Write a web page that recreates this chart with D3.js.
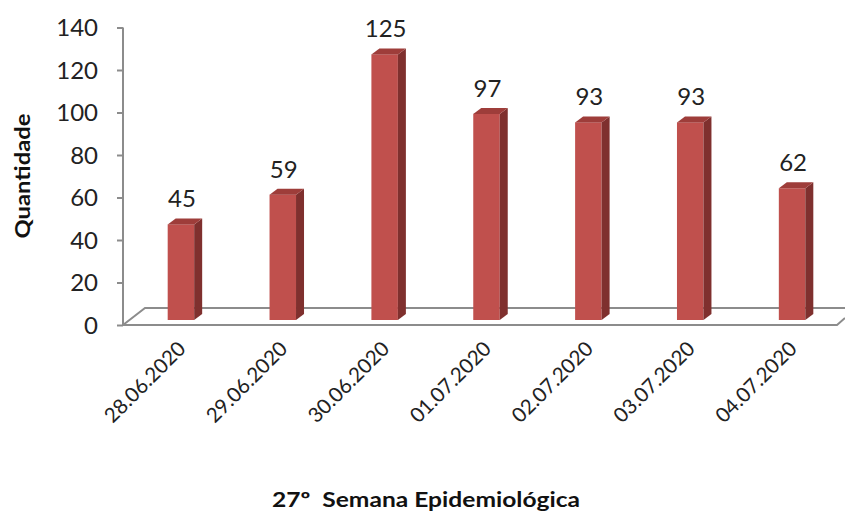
<!DOCTYPE html>
<html><head><meta charset="utf-8">
<script src="https://cdn.jsdelivr.net/npm/d3@7"></script>
<style>body{margin:0;background:#fff}svg{display:block}</style>
</head><body>
<svg id="c" width="845" height="515"></svg>
<script>
const categories = ["28.06.2020","29.06.2020","30.06.2020","01.07.2020","02.07.2020","03.07.2020","04.07.2020"];
const values = [45, 59, 125, 97, 93, 93, 62];
const yTicks = [0, 20, 40, 60, 80, 100, 120, 140];
const yTitle = "Quantidade";
const xTitle = "27º\u00a0 Semana Epidemiológica";

const svg = d3.select("#c");
const font = "Lato, 'Open Sans', sans-serif";
const axisX = 123, floorY = 325, depthX = 22, depthY = 17;
const y = d3.scaleLinear().domain([0, 140]).range([325, 27.5]);
const x = d3.scaleBand().domain(categories).range([130, 843]).paddingInner(0.74).paddingOuter(0.37);
const gray = "#8c8c8c";

// floor
const fl = svg.append("g").attr("stroke", gray).attr("stroke-width", 2).attr("fill", "none");
fl.append("path").attr("d", `M${axisX},${floorY} L${axisX+depthX},${floorY-depthY} L845,${floorY-depthY}`);
fl.append("path").attr("d", `M${axisX},${floorY} L837,${floorY} L845,${floorY-7}`);

// y axis
const yAxis = d3.axisLeft(y).tickValues(yTicks).tickSize(6).tickPadding(19);
const ga = svg.append("g").attr("transform", `translate(${axisX},0)`).call(yAxis);
ga.select(".domain").attr("stroke", gray).attr("stroke-width", 2).attr("d", `M-0,${y(140)}V${y(0)}`);
ga.selectAll(".tick line").attr("stroke", gray).attr("stroke-width", 2);
ga.selectAll(".tick text").attr("font-family", font).attr("font-size", 24).attr("fill", "#222").attr("dy", "0.35em");

// bars
const base = 320, k = (y(0) - y(1));
const bw = x.bandwidth(), sdx = 8, sdy = 6;
const bars = svg.append("g");
categories.forEach((c, i) => {
  const v = values[i];
  const x0 = x(c), top = base - v * k;
  bars.append("rect").attr("x", x0).attr("y", top).attr("width", bw).attr("height", base - top).attr("fill", "#c0504d");
  bars.append("path").attr("d", `M${x0+bw},${top} L${x0+bw+sdx},${top-sdy} L${x0+bw+sdx},${base-sdy} L${x0+bw},${base}Z`).attr("fill", "#7f302e");
  bars.append("path").attr("d", `M${x0},${top} L${x0+sdx},${top-sdy} L${x0+bw+sdx},${top-sdy} L${x0+bw},${top}Z`).attr("fill", "#9e3d3a");
  bars.append("text").attr("x", x0 + bw/2 + 1).attr("y", top - 17).attr("text-anchor", "middle")
    .attr("font-family", font).attr("font-size", 24).attr("fill", "#222").text(v);
  bars.append("text").attr("transform", `translate(${x0 + bw/2 + 6},${350}) rotate(-45)`).attr("text-anchor", "end")
    .attr("font-family", font).attr("font-size", 20.5).attr("fill", "#222").text(c);
});

svg.append("text").attr("transform", "translate(30,176) rotate(-90)").attr("text-anchor", "middle")
  .attr("font-family", font).attr("font-size", 20).attr("font-weight", "bold").attr("fill", "#111")
  .attr("textLength", 125).attr("lengthAdjust", "spacingAndGlyphs").text(yTitle);
svg.append("text").attr("x", 426).attr("y", 507).attr("text-anchor", "middle")
  .attr("font-family", font).attr("font-size", 20).attr("font-weight", "bold").attr("fill", "#111")
  .attr("textLength", 308).attr("lengthAdjust", "spacingAndGlyphs").text(xTitle);
</script>
</body></html>
